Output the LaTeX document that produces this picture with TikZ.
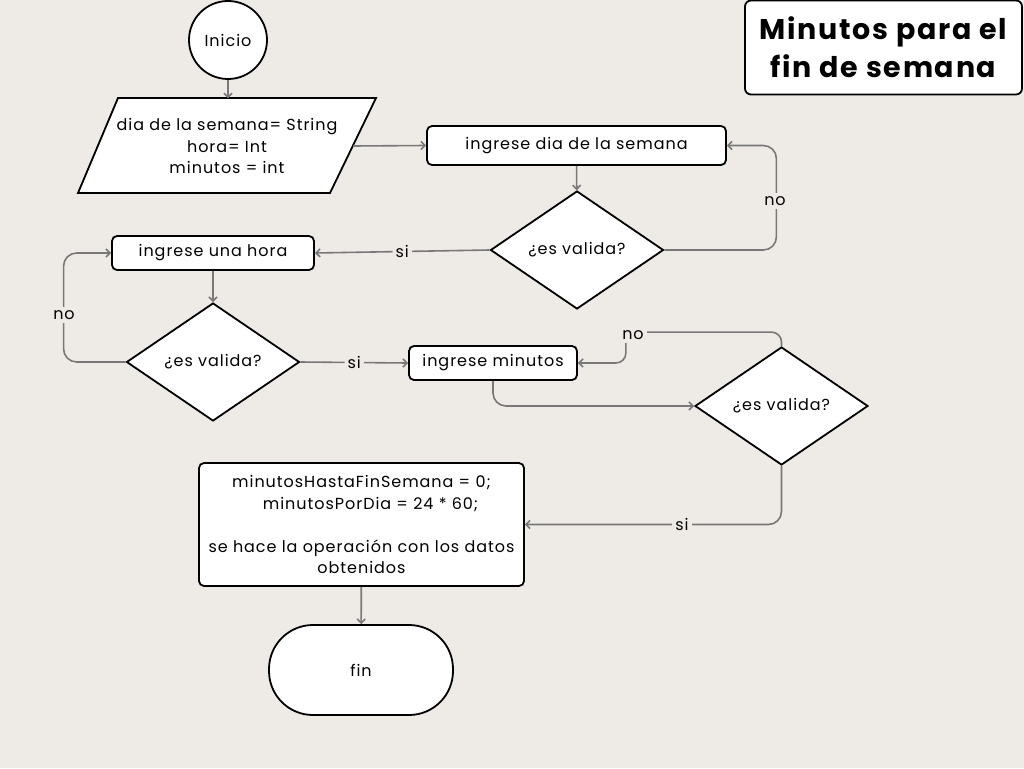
\documentclass[tikz,border=0pt]{standalone}
\usepackage{fontspec}
\setmainfont{Poppins}[LetterSpace=6]
\usetikzlibrary{shapes.geometric,arrows.meta}
\definecolor{bg}{RGB}{238,235,230}
\definecolor{ln}{RGB}{120,120,120}
\begin{document}
\begin{tikzpicture}[x=1pt,y=-1pt,
 every node/.style={font=\fontsize{16}{21.5}\selectfont},
 shp/.style={draw=black, line width=1.8pt, fill=white},
 box/.style={shp, rounded corners=5pt, inner sep=0pt},
 dec/.style={shp, diamond, minimum width=173pt, minimum height=118pt, inner sep=0pt},
 conn/.style={draw=ln, line width=1.6pt, -{Straight Barb[length=4pt,width=8pt]}, rounded corners=13pt},
 lbl/.style={fill=bg, inner sep=3pt}
]
\fill[bg] (0,0) rectangle (1024,768);
\useasboundingbox (0,0) rectangle (1024,768);

\node[shp, circle, minimum size=78pt, inner sep=0pt] (start) at (228,40) {Inicio};
\draw[shp] (118,98) -- (376,98) -- (330,193) -- (78,193) -- cycle;
\node[align=center, inner sep=0pt, minimum width=252pt, minimum height=95pt] (par) at (227,146) {dia de la semana= String\\hora= Int\\minutos = int};
\node[box, minimum width=299pt, minimum height=39pt] (b1) at (576.5,145.5) {ingrese dia de la semana};
\node[dec] (d1) at (577,250) {¿es valida?};
\node[box, minimum width=202pt, minimum height=34pt] (b2) at (213,253) {ingrese una hora};
\node[dec] (d2) at (213,362) {¿es valida?};
\node[box, minimum width=168pt, minimum height=34pt] (b3) at (493,363) {ingrese minutos};
\node[dec] (d3) at (781.5,406) {¿es valida?};
\node[box, minimum width=325pt, minimum height=123pt, align=center] (b4) at (361.5,524.5)
 {minutosHastaFinSemana = 0;\\\hspace*{18pt}minutosPorDia = 24 * 60;\\[21.5pt]se hace la operación con los datos\\obtenidos};
\node[shp, rounded corners=44pt, minimum width=184pt, minimum height=90pt] (fin) at (361,670) {fin};
\node[shp, rounded corners=6pt, minimum width=277pt, minimum height=94pt, align=center,
 font=\bfseries\fontsize{28.5}{38}\selectfont] (title) at (883.5,47.5) {Minutos para el\\fin de semana};

\draw[conn] (start.south) -- (start.south |- par.north);
\draw[conn] (par.east) -- (b1.west);
\draw[conn] (b1) -- (d1);
\draw[conn] (d1.east) -- ++(112,0) |- (b1.east);
\node[lbl] (no1) at (775,201) {no};
\draw[conn] (d1.west) -- node[lbl] (si1) {si} (b2.east);
\draw[conn] (b2) -- (d2);
\draw[conn] (d2.west) -- ++(-62,0) |- (b2.west);
\node[lbl] (no2) at (64,315) {no};
\draw[conn] (d2.east) -- node[lbl] (si2) {si} (b3.west);
\draw[conn] (b3.south) |- (d3.west);
\draw[conn, rounded corners=10pt] (d3.north) -- ++(0,-14) -| ([xshift=48pt]b3.east) -- (b3.east);
\node[lbl] (no3) at (633,335) {no};
\draw[conn] (d3.south) |- (b4.east);
\node[lbl] (si3) at (682,524) {si};
\draw[conn] (b4) -- (fin);
\end{tikzpicture}
\end{document}
